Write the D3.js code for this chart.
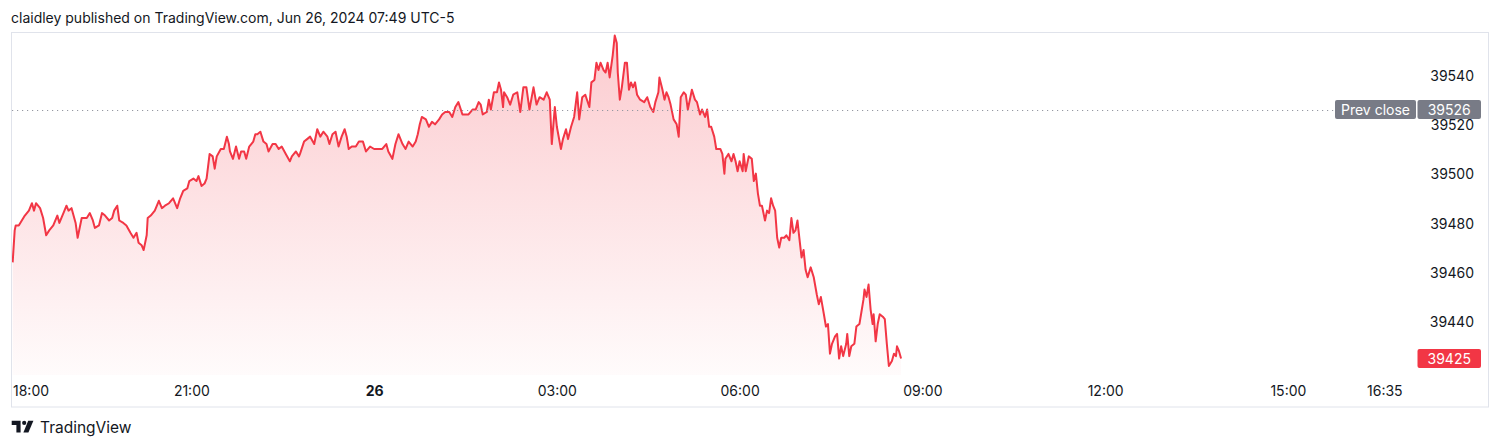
<!DOCTYPE html>
<html>
<head>
<meta charset="utf-8">
<script src="https://cdn.jsdelivr.net/npm/d3@7"></script>
<style>
  html, body { margin: 0; padding: 0; background: #ffffff; }
  svg { display: block; }
  text { font-family: Inter, "Noto Sans", "DejaVu Sans", sans-serif; }
</style>
</head>
<body>
<svg id="chart" width="1500" height="448"></svg>
<script>
// ---- data (minutes after Jun 25 18:00, price) ----
const minutes = [
  4,6,7,10,13,16,20,23,25,27,31,34,37,40,44,48,50,54,57,59,
  62,66,68,72,77,80,83,85,89,92,95,99,102,104,107,109,113,116,120,123,
  126,128,131,133,136,137,140,144,148,151,154,158,162,166,169,172,176,178,182,185,
  187,190,193,195,198,201,203,205,209,212,215,217,218,221,224,227,229,232,234,237,
  241,243,245,248,251,254,256,260,263,266,269,273,277,279,283,286,
  287,291,294,297,301,304,307,310,314,316,319,322,325,328,331,333,335,338,342,345,
  349,352,356,360,364,368,372,374,378,381,384,388,391,394,398,401,403,405,407,411,
  414,417,420,424,427,430,434,437,440,443,447,450,453,457,460,463,465,467,471,473,
  475,478,481,483,485,487,488,491,494,497,501,504,507,510,513,517,520,523,527,530,
  533,535,538,540,544,546,549,551,554,557,560,562,565,568,572,574,577,579,581,
  583,586,588,590,592,595,597,599,600,602,604,607,609,611,613,615,617,619,622,626,
  629,632,635,637,640,641,644,646,648,650,652,655,658,660,662,665,667,669,672,673,
  676,678,681,683,686,688,690,692,695,697,701,703,705,706,709,712,714,716,718,720,
  723,724,726,729,732,734,736,738,740,742,745,747,749,751,753,755,757,759,761,764,
  766,769,771,773,775,777,778,781,783,785,787,790,793,796,798,800,803,805,807,809,
  811,814,816,818,820,822,825,826,828,830,833,835,838,840,842,843,845,847,849,851,
  852,854,856,858,861,863,865,867,870,872,874,875,877,879
];
const prices = [
  39464,39477,39479,39479,39481,39483,39485,39488,39485,39488,39486,39482,39475,39477,39479,39483,39480,39484,39487,39485,
  39486,39480,39474,39482,39482,39484,39481,39478,39479,39484,39483,39481,39482,39485,39487,39481,39480,39479,39476,39474,
  39476,39472,39471,39469,39475,39482,39483,39485,39489,39486,39487,39488,39490,39486,39490,39493,39494,39497,39498,39497,
  39499,39495,39496,39498,39508,39507,39502,39507,39510,39510,39515,39512,39509,39506,39511,39506,39509,39509,39506,39511,
  39513,39516,39516,39517,39513,39512,39509,39512,39512,39510,39511,39508,39505,39507,39509,39507,
  39508,39513,39514,39515,39512,39518,39515,39517,39515,39512,39516,39517,39511,39515,39518,39515,39510,39511,39511,39513,
  39513,39509,39511,39510,39510,39510,39512,39509,39506,39512,39516,39512,39510,39513,39511,39513,39516,39520,39523,39522,
  39519,39521,39520,39522,39524,39525,39525,39523,39527,39529,39524,39524,39524,39526,39526,39529,39528,39524,39525,39530,
  39526,39533,39533,39537,39534,39527,39533,39531,39528,39532,39533,39525,39535,39535,39526,39535,39528,39531,39530,39533,
  39530,39512,39527,39519,39510,39514,39518,39514,39519,39523,39533,39522,39531,39532,39527,39537,39538,39545,39542,
  39545,39542,39541,39545,39539,39548,39556,39553,39541,39530,39535,39545,39545,39534,39537,39535,39537,39532,39530,39529,
  39531,39527,39525,39529,39533,39539,39534,39530,39533,39531,39528,39522,39520,39515,39531,39533,39532,39526,39532,39534,
  39530,39529,39524,39526,39523,39526,39519,39519,39515,39510,39510,39508,39500,39506,39508,39505,39508,39505,39501,39505,
  39501,39508,39501,39507,39506,39497,39500,39492,39487,39487,39481,39485,39484,39490,39487,39485,39474,39470,39474,39474,
  39475,39473,39482,39476,39477,39481,39477,39466,39469,39461,39458,39462,39458,39451,39447,39450,39443,39438,39439,39427,
  39431,39434,39435,39425,39430,39426,39431,39435,39426,39430,39431,39438,39439,39444,39449,39453,39450,39455,39445,39439,
  39443,39432,39439,39443,39442,39441,39431,39422,39424,39427,39426,39430,39428,39425
];

const priceTicks = [39440, 39460, 39480, 39500, 39520, 39540];
const timeTickMinutes = [0, 180, 360, 540, 720, 900, 1080, 1260, 1355];
const timeTickLabels = ["18:00", "21:00", "26", "03:00", "06:00", "09:00", "12:00", "15:00", "16:35"];
const prevClose = 39526;
const lastPrice = 39425;
const headerText = "claidley published on TradingView.com, Jun 26, 2024 07:49 UTC-5";
const brandText = "TradingView";

// ---- layout ----
const W = 1500, H = 448;
const frame = { x: 11.5, y: 32.5, w: 1477, h: 374.5 };
const plotLeft = 12, plotRight = 1418, plotTop = 33, plotBottom = 375;
const RED = "#f23645", TEXT = "#131722", GREY = "#787b86";

const base = Date.UTC(2024, 5, 25, 18, 0);
const toDate = m => new Date(base + m * 60000);
const data = minutes.map((m, i) => ({ t: toDate(m), v: prices[i] }));

const x = d3.scaleUtc()
  .domain([toDate(0), toDate(1380)])
  .range([8.6, 8.6 + 1380 * 1.0153]);
const y = d3.scaleLinear()
  .domain([39440, 39540])
  .range([321.6, 75]);

const svg = d3.select("#chart");

// header
svg.append("text")
  .attr("x", 11).attr("y", 22.5)
  .attr("font-size", 14).attr("fill", TEXT)
  .text(headerText);

// frame
svg.append("rect")
  .attr("x", frame.x).attr("y", frame.y)
  .attr("width", frame.w).attr("height", frame.h)
  .attr("fill", "#ffffff").attr("stroke", "#e0e3eb").attr("stroke-width", 1);

// gradient
const defs = svg.append("defs");
const grad = defs.append("linearGradient")
  .attr("id", "areaGrad")
  .attr("gradientUnits", "userSpaceOnUse")
  .attr("x1", 0).attr("x2", 0)
  .attr("y1", y(d3.max(prices))).attr("y2", plotBottom);
grad.append("stop").attr("offset", 0).attr("stop-color", RED).attr("stop-opacity", 0.26);
grad.append("stop").attr("offset", 1).attr("stop-color", RED).attr("stop-opacity", 0.02);

defs.append("clipPath").attr("id", "plotClip")
  .append("rect").attr("x", plotLeft).attr("y", plotTop)
  .attr("width", plotRight - plotLeft).attr("height", plotBottom - plotTop);

const g = svg.append("g").attr("clip-path", "url(#plotClip)");

const area = d3.area()
  .x(d => x(d.t)).y0(plotBottom).y1(d => y(d.v));
const line = d3.line()
  .x(d => x(d.t)).y(d => y(d.v));

g.append("path").datum(data)
  .attr("d", area).attr("fill", "url(#areaGrad)");

// prev close dotted line
svg.append("line")
  .attr("x1", 12).attr("x2", 1335)
  .attr("y1", Math.round(y(prevClose)) + 0.5).attr("y2", Math.round(y(prevClose)) + 0.5)
  .attr("stroke", "#9598a1").attr("stroke-width", 1)
  .attr("stroke-dasharray", "1.2,3.8");

g.append("path").datum(data)
  .attr("d", line).attr("fill", "none")
  .attr("stroke", RED).attr("stroke-width", 2)
  .attr("stroke-linejoin", "round");

// price axis
const yAxis = d3.axisRight(y)
  .tickValues(priceTicks)
  .tickSize(0).tickPadding(0)
  .tickFormat(d3.format("d"));
const yAxisG = svg.append("g")
  .attr("transform", "translate(1474,0)")
  .call(yAxis);
yAxisG.select(".domain").remove();
yAxisG.selectAll("text")
  .attr("text-anchor", "end")
  .attr("font-family", "Inter, 'Noto Sans', sans-serif")
  .attr("font-size", 14).attr("fill", TEXT)
  .attr("dy", "0.36em");

// time axis
const xAxis = d3.axisBottom(x)
  .tickValues(timeTickMinutes.map(toDate))
  .tickSize(0).tickPadding(0)
  .tickFormat((d, i) => timeTickLabels[i]);
const xAxisG = svg.append("g")
  .attr("transform", "translate(0,396)")
  .call(xAxis);
xAxisG.select(".domain").remove();
xAxisG.selectAll("text")
  .attr("dy", 0)
  .attr("font-family", "Inter, 'Noto Sans', sans-serif")
  .attr("font-size", 14).attr("fill", TEXT)
  .attr("font-weight", (d, i) => timeTickLabels[i] === "26" ? 700 : 400);
// keep first label inside the pane
xAxisG.selectAll(".tick").each(function (d, i) {
  if (i === 0) {
    const tx = x(d);
    d3.select(this).select("text")
      .attr("text-anchor", "start")
      .attr("x", 12.5 - tx);
  }
});

// price labels
function priceTag(val, fill, text, bx, bw) {
  const cy = y(val);
  svg.append("rect")
    .attr("x", bx).attr("y", cy - 9.5)
    .attr("width", bw).attr("height", 19).attr("rx", 2)
    .attr("fill", fill);
  svg.append("text")
    .attr("x", bx + bw / 2).attr("y", cy + 5)
    .attr("text-anchor", "middle")
    .attr("font-size", 14).attr("fill", "#ffffff")
    .text(text);
}
priceTag(prevClose, GREY, "Prev close", 1335, 81);
priceTag(prevClose, GREY, d3.format("d")(prevClose), 1417.5, 63.5);
priceTag(lastPrice, RED, d3.format("d")(lastPrice), 1417.5, 63.5);

// brand
const logo = svg.append("g").attr("fill", TEXT);
logo.append("path").attr("d", "M11.7,420.8 H20.6 V432.4 H16.4 V424.9 H11.7 Z");
logo.append("circle").attr("cx", 24.2).attr("cy", 422.9).attr("r", 2.1);
logo.append("path").attr("d", "M28.2,420.8 H33.4 L28.4,432.4 H23.4 Z");
svg.append("text")
  .attr("x", 40).attr("y", 433)
  .attr("font-size", 15.5).attr("fill", TEXT)
  .text(brandText);
</script>
</body>
</html>
